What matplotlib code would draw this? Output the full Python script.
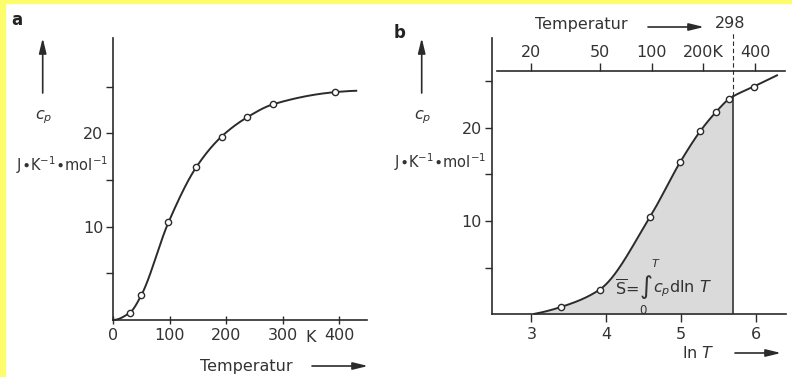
import numpy as np
import matplotlib
matplotlib.use("Agg")
import matplotlib.pyplot as plt

# ---------------- data ----------------
T_points = [30, 50, 98, 147, 192, 237, 283, 392]            # K
cp_points = [0.8, 2.65, 10.45, 16.35, 19.65, 21.7, 23.1, 24.4]  # J K^-1 mol^-1

# curve ends (panel a: linear T, panel b: ln T)
curve_a_start = (0.0, 0.0)
curve_a_end = (430.0, 24.55)
curve_b_start = (3.04, 0.05)
curve_b_end = (6.28, 25.6)

T_ref = 298
a_xticks = [0, 100, 200, 300, 400]
a_xticklabels = ["0", "100", "200", "300", "400"]
b_xticks = [3, 4, 5, 6]
yticks = [5, 10, 15, 20, 25]
yticklabels = ["", "10", "", "20", ""]
top_ticks = [20, 50, 100, 200, 400]
top_ticklabels = ["20", "50", "100", "200K", "400"]

INK = "#2b2b2b"
TXT = "#333333"
SHADE = "#dadada"
YELLOW = "#fdfd6c"

W, H = 792, 377


def pchip(x, y, xn):
    x = np.asarray(x, float); y = np.asarray(y, float)
    h = np.diff(x); d = np.diff(y) / h
    n = len(x); m = np.zeros(n)
    for k in range(1, n - 1):
        if d[k - 1] * d[k] > 0:
            w1 = 2 * h[k] + h[k - 1]; w2 = h[k] + 2 * h[k - 1]
            m[k] = (w1 + w2) / (w1 / d[k - 1] + w2 / d[k])
    def endslope(h0, h1, d0, d1):
        s = ((2 * h0 + h1) * d0 - h0 * d1) / (h0 + h1)
        if np.sign(s) != np.sign(d0):
            s = 0.0
        elif np.sign(d0) != np.sign(d1) and abs(s) > abs(3 * d0):
            s = 3 * d0
        return s
    m[0] = endslope(h[0], h[1], d[0], d[1])
    m[-1] = endslope(h[-1], h[-2], d[-1], d[-2])
    xn = np.asarray(xn, float)
    idx = np.clip(np.searchsorted(x, xn) - 1, 0, n - 2)
    t = (xn - x[idx]) / h[idx]
    h00 = 2 * t**3 - 3 * t**2 + 1; h10 = t**3 - 2 * t**2 + t
    h01 = -2 * t**3 + 3 * t**2; h11 = t**3 - t**2
    return h00 * y[idx] + h10 * h[idx] * m[idx] + h01 * y[idx + 1] + h11 * h[idx] * m[idx + 1]


def fx(px):
    return px / W


def fy(py):
    return 1 - py / H


fig = plt.figure(figsize=(W / 100, H / 100), dpi=100)
fig.patch.set_facecolor("white")

# yellow frame (left and top strips)
fig.patches.append(plt.Rectangle((0, 0), fx(5), 1, transform=fig.transFigure,
                                 color=YELLOW, zorder=0))
fig.patches.append(plt.Rectangle((0, fy(3)), 1, 3 / H, transform=fig.transFigure,
                                 color=YELLOW, zorder=0))

FS = 11.5

def style_axes(ax):
    for s in ["top", "right"]:
        ax.spines[s].set_visible(False)
    for s in ["left", "bottom"]:
        ax.spines[s].set_color(INK)
        ax.spines[s].set_linewidth(1.2)
    ax.set_facecolor("none")
    ax.set_yticks(yticks)
    ax.set_yticklabels(yticklabels)
    ax.tick_params(axis="y", direction="out", length=5, width=1.0, colors=INK,
                   labelcolor=TXT, labelsize=FS, pad=2)


# ---------------- panel a ----------------
axA = fig.add_axes([fx(113), fy(320), fx(367) - fx(113), fy(38) - fy(320)])
style_axes(axA)
axA.set_xlim(0, 449)
axA.set_ylim(0, 30.2)
axA.set_xticks(a_xticks)
axA.set_xticklabels(a_xticklabels)
axA.tick_params(axis="x", direction="inout", length=6, width=1.0, colors=INK,
                labelcolor=TXT, labelsize=FS, pad=3)

ca_x = [curve_a_start[0]] + T_points + [curve_a_end[0]]
ca_y = [curve_a_start[1]] + cp_points + [curve_a_end[1]]
xa = np.linspace(ca_x[0], ca_x[-1], 600)
axA.plot(xa, pchip(ca_x, ca_y, xa), color=INK, lw=1.4, zorder=3, clip_on=False)
axA.plot(T_points, cp_points, "o", ms=4.5, mfc="white", mec=INK, mew=1.0, zorder=4)

# ---------------- panel b ----------------
axB = fig.add_axes([fx(491.7), fy(314.3), fx(786) - fx(491.7), fy(38) - fy(314.3)])
style_axes(axB)
axB.set_xlim(2.47, 6.40)
axB.set_ylim(0, 29.6)
axB.set_xticks(b_xticks)
axB.tick_params(axis="x", direction="out", length=6, width=1.0, colors=INK,
                labelcolor=TXT, labelsize=FS, pad=3)

lnT = list(np.log(T_points))
cb_x = [curve_b_start[0]] + lnT + [curve_b_end[0]]
cb_y = [curve_b_start[1]] + cp_points + [curve_b_end[1]]
x_ref = np.log(T_ref)
xb1 = np.linspace(cb_x[0], x_ref, 400)
xb2 = np.linspace(x_ref, cb_x[-1], 200)
yb1 = pchip(cb_x, cb_y, xb1)
yb2 = pchip(cb_x, cb_y, xb2)
axB.fill_between(xb1, 0, yb1, color=SHADE, lw=0, zorder=1)
y_ref = yb1[-1]
axB.plot([x_ref, x_ref], [0, y_ref], color=INK, lw=1.1, zorder=2)
axB.plot([x_ref, x_ref], [y_ref, 30.2], color=INK, lw=0.8, ls=(0, (4, 2.5)),
         zorder=2, clip_on=False)
axB.plot(np.concatenate([xb1, xb2]), np.concatenate([yb1, yb2]), color=INK, lw=1.4,
         zorder=3, clip_on=False)
axB.plot(lnT, cp_points, "o", ms=4.5, mfc="white", mec=INK, mew=1.0, zorder=4)

# top temperature axis
top_cp = 26.08
sec = axB.secondary_xaxis(top_cp / 29.6, functions=(np.exp, np.log))
sec.set_xticks(top_ticks)
sec.set_xticklabels(top_ticklabels)
sec.tick_params(axis="x", direction="out", length=6, width=1.0, colors=INK,
                labelcolor=TXT, labelsize=FS, pad=2)
for s in sec.spines.values():
    s.set_color(INK)
    s.set_linewidth(1.2)
sec.spines["top"].set_bounds(np.exp(2.54), np.exp(6.38))

# ---------------- labels, arrows ----------------
arrow_kw = dict(arrowstyle="-|>,head_length=0.9,head_width=0.22", color=INK, lw=1.2,
                shrinkA=0, shrinkB=0)

def farrow(x0, y0, x1, y1):
    fig.add_artist(matplotlib.patches.FancyArrowPatch(
        (fx(x0), fy(y0)), (fx(x1), fy(y1)), transform=fig.transFigure,
        mutation_scale=10, **arrow_kw))

def ftext(x, y, s, size=FS, **kw):
    kw.setdefault("ha", "center")
    kw.setdefault("va", "center")
    kw.setdefault("color", TXT)
    return fig.text(fx(x), fy(y), s, fontsize=size, **kw)

# integral annotation (pieces)
ftext(639, 289, r"$\overline{\mathrm{S}}$=", size=FS, ha="right")
ftext(646, 287, "\u222b", size=18)
ftext(656, 263, r"$T$", size=8)
ftext(643, 311, "0", size=8.5)
ftext(653, 289, r"$c_p$dln $T$", size=FS, ha="left")

# panel a
ftext(17, 20, "a", size=12, fontweight="bold", color="#222")
farrow(42.7, 93, 42.7, 38)
ftext(44, 117, r"$c_p$")
ftext(62, 165, r"J$\bullet$K$^{-1}$$\bullet$mol$^{-1}$", size=10.5)
ftext(311, 337, "K")
ftext(246, 366, "Temperatur")
farrow(312, 366, 368, 366)

# panel b
ftext(400, 33, "b", size=12, fontweight="bold", color="#222")
farrow(421.7, 93, 421.7, 38)
ftext(423, 117, r"$c_p$")
ftext(440, 162, r"J$\bullet$K$^{-1}$$\bullet$mol$^{-1}$", size=10.5)
ftext(698, 353, r"ln $T$")
farrow(735, 353, 781, 353)
ftext(581, 25, "Temperatur")
farrow(648, 27, 704, 27)
ftext(730, 23, "298")

fig.savefig("out.png", dpi=100, facecolor=fig.get_facecolor())
